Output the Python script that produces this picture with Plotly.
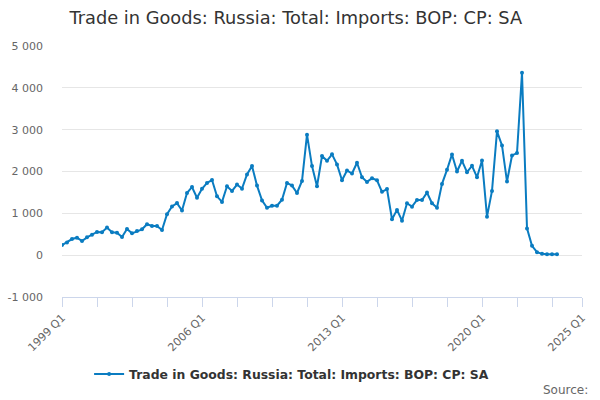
import plotly.graph_objects as go

series_name = "Trade in Goods: Russia: Total: Imports: BOP: CP: SA"
start_year = 1999
values = [
    241, 305, 386, 418, 337, 426, 490, 554, 546, 659, 546, 538,
    434, 627, 522, 578, 618, 739, 699, 699, 602, 980, 1165, 1245,
    1068, 1486, 1630, 1373, 1585, 1727, 1795, 1406, 1273, 1647, 1534, 1687,
    1590, 1928, 2129, 1663, 1309, 1133, 1181, 1181, 1325, 1727, 1663, 1486,
    1775, 2880, 2129, 1647, 2369, 2257, 2410, 2169, 1791, 2024, 1952, 2209,
    1863, 1751, 1839, 1791, 1515, 1580, 858, 1082, 824, 1240, 1160, 1320,
    1320, 1496, 1240, 1136, 1704, 2040, 2408, 2000, 2256, 1984, 2136, 1864,
    2264, 920, 1536, 2960, 2624, 1760, 2384, 2440, 4360, 640, 224, 72,
    32, 24, 24, 24,
]
quarter_labels = [f"{start_year + i // 4} Q{i % 4 + 1}" for i in range(len(values))]
x_pos = [int(q[:4]) + (int(q[-1]) - 1) / 4 for q in quarter_labels]

x_tick_vals = [1999, 2000.75, 2002.5, 2004.25, 2006, 2007.75, 2009.5, 2011.25,
               2013, 2014.75, 2016.5, 2018.25, 2020, 2021.75, 2023.5, 2025]
x_tick_text = ["1999 Q1", "", "", "", "2006 Q1", "", "", "",
               "2013 Q1", "", "", "", "2020 Q1", "", "", "2025 Q1"]
y_tick_vals = [-1000, 0, 1000, 2000, 3000, 4000, 5000]
y_tick_text = ["-1 000", "0", "1 000", "2 000", "3 000", "4 000", "5 000"]

line_color = "#0a7cc1"
font_family = "DejaVu Sans"

fig = go.Figure()
fig.add_trace(go.Scatter(
    x=x_pos, y=values, mode="lines+markers", name="<b>" + series_name + "</b>",
    line=dict(color=line_color, width=2),
    marker=dict(color=line_color, size=4),
    text=quarter_labels,
))

fig.update_layout(
    width=600, height=400,
    paper_bgcolor="white", plot_bgcolor="white",
    font=dict(family=font_family, color="#333333"),
    margin=dict(l=62, r=18, t=46, b=103, autoexpand=False),
    title=dict(text=series_name, x=0.493, xanchor="center", y=0.955, yanchor="middle",
               xref="container", yref="container",
               font=dict(size=17.8, color="#333333", family=font_family)),
    showlegend=True,
    legend=dict(orientation="h", xref="container", yref="container",
                x=0.486, xanchor="center", y=0.064, yanchor="middle",
                font=dict(size=12.4, color="#333333", family=font_family)),
    xaxis=dict(
        range=[1999, 2025], tickmode="array", tickvals=x_tick_vals, ticktext=x_tick_text,
        tickangle=-45, ticks="outside", ticklen=9, tickcolor="#ccd6eb", tickwidth=1,
        showline=True, linecolor="#ccd6eb", linewidth=1, showgrid=False, zeroline=False,
        automargin=False,
        tickfont=dict(size=11, color="#666666", family=font_family),
    ),
    yaxis=dict(
        range=[-1000, 5000], tickmode="array", tickvals=y_tick_vals, ticktext=y_tick_text,
        showgrid=True, gridcolor="#e6e6e6", gridwidth=1, zeroline=False, showline=False,
        ticks="", ticklabelstandoff=18, automargin=False,
        tickfont=dict(size=11, color="#666666", family=font_family),
    ),
    annotations=[dict(text="Source:", xref="paper", yref="paper", x=1.015, y=-0.37,
                      xanchor="right", yanchor="middle", showarrow=False,
                      font=dict(size=12, color="#666666", family=font_family))],
)

fig.write_html("out.html", config={"displayModeBar": False},
               post_script="document.body.style.margin='0';")
